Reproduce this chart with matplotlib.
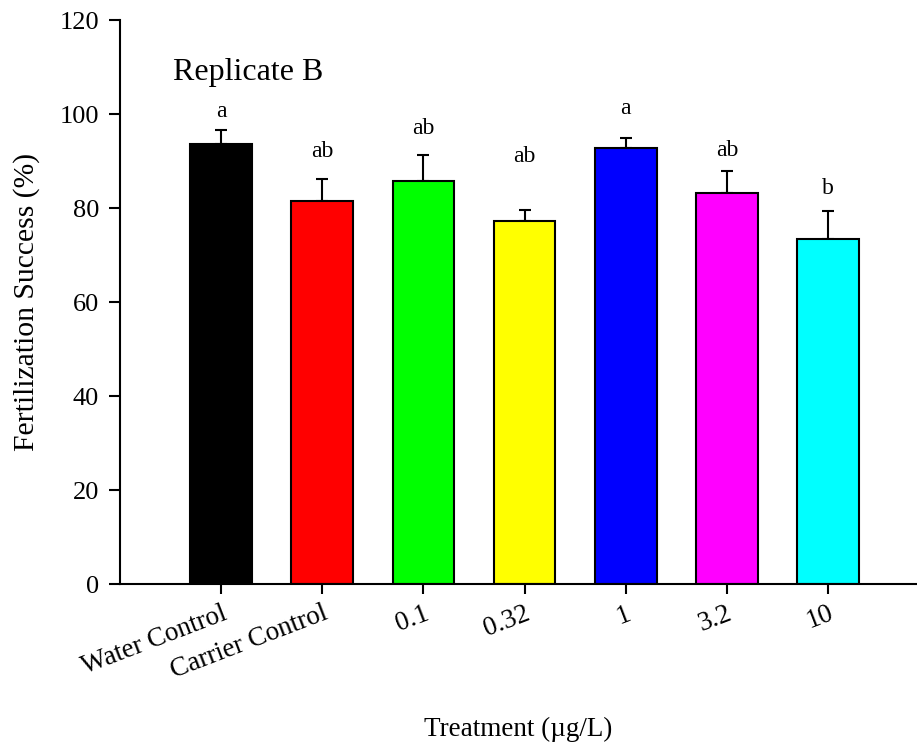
import matplotlib.pyplot as plt
import numpy as np

plt.rcParams['font.family'] = ['Liberation Serif', 'DejaVu Serif']

treatments = ['Water Control', 'Carrier Control', '0.1', '0.32', '1', '3.2', '10']
means = [93.6, 81.6, 85.8, 77.3, 92.7, 83.2, 73.4]
sem = [3.0, 4.5, 5.5, 2.3, 2.3, 4.8, 6.1]
letters = ['a', 'ab', 'ab', 'ab', 'a', 'ab', 'b']
letter_y = [99.4, 90.9, 95.8, 89.8, 100.0, 91.2, 83.0]
colors = ['#000000', '#ff0000', '#00ff00', '#ffff00', '#0000ff', '#ff00ff', '#00ffff']

fig = plt.figure(figsize=(9.17, 7.45), dpi=100)
ax = fig.add_axes([0.1309, 0.2157, 0.8691, 0.7573])

x = np.arange(len(treatments))
ax.bar(x, means, width=0.61, color=colors, edgecolor='black', linewidth=1.5, zorder=2)
ax.errorbar(x, means, yerr=[np.zeros(len(sem)), sem], fmt='none', ecolor='black',
            elinewidth=1.5, capsize=4.5, capthick=1.5, zorder=1)

for xi, lab, ly in zip(x, letters, letter_y):
    ax.text(xi, ly, lab, ha='center', va='baseline', fontsize=17)

ax.text(-0.48, 107.2, 'Replicate B', ha='left', va='baseline', fontsize=23)

ax.set_xlim(-1.0, 6.88)
ax.set_ylim(0, 120)
ax.set_yticks(np.arange(0, 121, 20))
ax.set_xticks(x)
ax.set_xticklabels(treatments, rotation=21, ha='right', rotation_mode='anchor')
ax.tick_params(axis='both', direction='out', width=1.5, labelsize=19)
ax.tick_params(axis='x', labelsize=19.5)
ax.tick_params(axis='y', length=8, pad=7)
ax.tick_params(axis='x', length=7, pad=5)

for s in ['top', 'right']:
    ax.spines[s].set_visible(False)
for s in ['left', 'bottom']:
    ax.spines[s].set_linewidth(1.5)

ax.set_ylabel('Fertilization Success (%)', fontsize=21.3, labelpad=14)
ax.set_xlabel('Treatment (\u00b5g/L)', fontsize=19.5, labelpad=24)

fig.savefig('out.png', dpi=100)
